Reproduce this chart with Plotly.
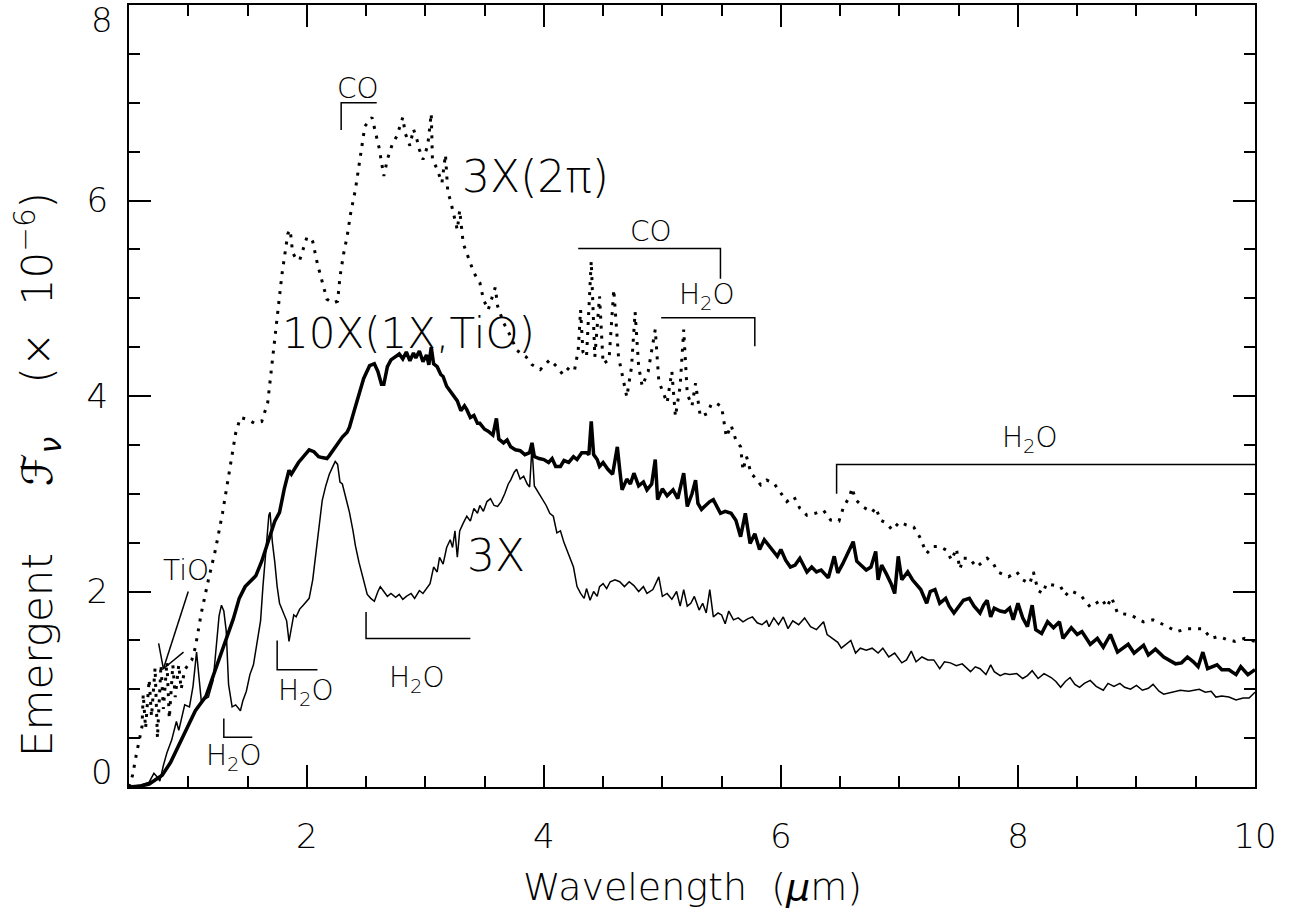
import plotly.graph_objects as go

# ---------------- data ----------------
thin_x = [0.50,0.60,0.67,0.71,0.74,0.76,0.79,0.82,0.86,0.90,0.92,0.95,0.97,1.01,1.04,1.07,1.09,1.11,1.14,1.17,
          1.21,1.24,1.26,1.28,1.30,1.32,1.34,1.37,1.40,1.44,1.46,1.49,1.52,1.55,1.58,1.61,1.63,1.65,1.68,1.69,
          1.71,1.73,1.75,1.77,1.80,1.83,1.85,1.87,1.89,1.91,1.94,1.97,2.00,2.02,2.05,2.08,2.11,2.13,2.16,2.19,
          2.22,2.24,2.26,2.28,2.30,2.33,2.36,2.39,2.41,2.44,2.47,2.49,2.51,2.54,2.57,2.60,2.62,2.65,2.68,2.71,
          2.75,2.78,2.81,2.84,2.88,2.91,2.95,2.98,3.01,3.04,3.07,3.10,3.12,3.15,3.18,3.21,3.23,3.25,3.27,3.29,
          3.32,3.35,3.38,3.41,3.44,3.46,3.49,3.52,3.55,3.58,3.61,3.64,3.67,3.70,3.72,3.75,3.77,3.80,3.83,3.86,
          3.88,3.90,3.92,3.95,3.98,4.02,4.05,4.08,4.11,4.14,4.17,4.20,4.23,4.25,4.28,4.31,4.34,4.36,4.39,4.42,
          4.45,4.47,4.50,4.53,4.56,4.60,4.64,4.68,4.72,4.76,4.80,4.84,4.87,4.92,4.97,5.00,5.04,5.08,5.12,5.15,
          5.18,5.21,5.24,5.27,5.31,5.34,5.37,5.40,5.43,5.47,5.50,5.53,5.56,5.60,5.64,5.68,5.72,5.76,5.80,5.84,
          5.88,5.90,5.94,5.98,6.02,6.06,6.10,6.15,6.20,6.25,6.30,6.36,6.39,6.44,6.48,6.51,6.55,6.59,6.63,6.67,
          6.72,6.77,6.82,6.86,6.91,6.96,7.02,7.06,7.10,7.14,7.19,7.24,7.29,7.34,7.38,7.43,7.48,7.53,7.60,7.64,
          7.68,7.73,7.77,7.80,7.85,7.89,7.93,7.99,8.04,8.08,8.12,8.17,8.22,8.28,8.32,8.36,8.40,8.44,8.48,8.52,
          8.56,8.61,8.66,8.72,8.76,8.81,8.86,8.90,8.95,9.00,9.05,9.10,9.14,9.19,9.23,9.30,9.37,9.44,9.53,9.58,
          9.63,9.67,9.72,9.78,9.84,9.90,9.95,10.00]
thin_y = [0.00,0.02,0.05,0.14,0.10,0.06,0.22,0.35,0.48,0.67,0.58,0.72,0.84,0.82,1.03,1.38,1.10,0.88,0.90,0.92,
          1.09,1.45,1.75,1.86,1.80,1.60,1.05,0.82,0.84,0.78,0.88,0.98,1.15,1.25,1.50,1.70,2.05,2.32,2.78,2.81,
          2.50,2.30,2.05,1.88,1.78,1.70,1.49,1.62,1.76,1.74,1.82,1.86,1.90,1.93,2.12,2.43,2.70,2.93,3.08,3.20,
          3.28,3.33,3.30,3.12,3.10,2.95,2.81,2.62,2.47,2.30,2.16,2.05,1.97,1.93,1.90,2.00,2.05,2.00,1.95,1.98,
          1.94,1.97,1.92,1.95,1.98,1.93,2.01,1.98,2.03,2.08,2.25,2.20,2.35,2.28,2.45,2.53,2.45,2.62,2.35,2.62,
          2.70,2.77,2.72,2.85,2.80,2.88,2.82,2.92,2.95,2.88,2.87,2.92,3.00,3.10,3.14,3.22,3.25,3.15,3.18,3.10,
          3.07,3.48,3.08,3.02,2.97,2.88,2.80,2.77,2.60,2.62,2.50,2.40,2.30,2.25,2.05,1.98,1.93,2.03,1.91,2.00,
          1.95,2.05,2.08,2.03,2.10,2.12,2.10,2.05,2.10,2.06,2.00,2.05,1.98,2.02,2.15,1.95,1.98,1.92,2.00,1.85,
          2.02,1.85,1.88,1.95,1.81,1.88,1.78,2.02,1.74,1.78,1.76,1.67,1.80,1.71,1.73,1.69,1.72,1.74,1.68,1.66,
          1.70,1.64,1.73,1.66,1.74,1.62,1.70,1.66,1.73,1.64,1.61,1.69,1.56,1.52,1.48,1.42,1.46,1.50,1.37,1.42,
          1.40,1.42,1.37,1.42,1.33,1.37,1.27,1.30,1.39,1.28,1.33,1.30,1.30,1.21,1.28,1.27,1.24,1.26,1.18,1.23,
          1.21,1.15,1.25,1.18,1.14,1.16,1.15,1.16,1.11,1.14,1.19,1.11,1.16,1.12,1.08,1.02,1.08,1.12,1.05,1.02,
          1.06,1.09,1.03,0.99,1.06,1.03,1.06,1.02,1.00,1.04,0.99,1.01,1.05,0.98,0.95,0.97,0.99,0.98,1.00,0.97,
          0.98,0.92,0.93,0.92,0.89,0.91,0.91,0.97]

thick_x = [0.50,0.60,0.67,0.75,0.78,0.85,0.92,0.99,1.06,1.15,1.23,1.32,1.38,1.43,1.48,1.52,1.57,1.62,1.68,1.73,
           1.77,1.81,1.85,1.87,1.93,1.98,2.02,2.06,2.10,2.13,2.17,2.19,2.25,2.30,2.34,2.36,2.40,2.44,2.48,2.53,
           2.57,2.60,2.63,2.65,2.68,2.71,2.75,2.78,2.81,2.84,2.87,2.90,2.92,2.95,2.98,3.01,3.03,3.05,3.07,3.10,
           3.13,3.15,3.18,3.21,3.24,3.27,3.30,3.33,3.35,3.38,3.41,3.44,3.46,3.50,3.53,3.57,3.60,3.62,3.66,3.69,
           3.72,3.76,3.80,3.84,3.88,3.90,3.92,3.96,4.00,4.04,4.07,4.10,4.14,4.17,4.21,4.25,4.28,4.32,4.36,4.38,
           4.40,4.42,4.45,4.47,4.50,4.54,4.58,4.62,4.64,4.66,4.70,4.73,4.76,4.80,4.84,4.87,4.91,4.94,4.96,5.00,
           5.04,5.09,5.13,5.18,5.21,5.25,5.28,5.30,5.33,5.37,5.40,5.43,5.46,5.49,5.53,5.58,5.62,5.66,5.70,5.72,
           5.74,5.78,5.82,5.86,5.91,5.97,6.00,6.04,6.08,6.12,6.16,6.19,6.22,6.26,6.30,6.34,6.37,6.40,6.45,6.48,
           6.52,6.56,6.61,6.64,6.68,6.72,6.76,6.80,6.82,6.85,6.89,6.93,6.96,6.99,7.02,7.07,7.11,7.15,7.18,7.23,
           7.26,7.30,7.34,7.39,7.42,7.46,7.50,7.54,7.59,7.63,7.68,7.71,7.74,7.77,7.80,7.85,7.89,7.93,7.96,8.00,
           8.04,8.08,8.12,8.15,8.20,8.25,8.30,8.35,8.38,8.45,8.50,8.54,8.61,8.67,8.72,8.78,8.84,8.93,8.98,9.06,
           9.10,9.16,9.23,9.33,9.38,9.43,9.48,9.52,9.56,9.60,9.68,9.72,9.78,9.84,9.88,9.94,10.00]
thick_y = [0.00,0.01,0.03,0.10,0.12,0.25,0.43,0.60,0.78,0.93,1.20,1.50,1.72,1.93,2.05,2.10,2.16,2.31,2.55,2.72,
           2.81,3.05,3.24,3.20,3.32,3.40,3.45,3.43,3.38,3.37,3.36,3.39,3.50,3.58,3.63,3.68,3.85,4.01,4.18,4.31,
           4.33,4.25,4.12,4.12,4.30,4.37,4.40,4.43,4.38,4.45,4.36,4.44,4.39,4.46,4.35,4.42,4.32,4.50,4.33,4.30,
           4.22,4.20,4.10,4.05,3.99,3.95,3.85,3.90,3.86,3.78,3.80,3.72,3.72,3.66,3.64,3.60,3.77,3.56,3.52,3.55,
           3.48,3.45,3.44,3.40,3.42,3.52,3.38,3.36,3.35,3.32,3.36,3.28,3.28,3.34,3.32,3.38,3.35,3.42,3.42,3.40,
           3.74,3.40,3.35,3.28,3.32,3.25,3.20,3.48,3.25,3.04,3.15,3.10,3.21,3.08,3.12,3.04,3.10,3.35,2.94,3.05,
           2.98,3.04,2.95,3.21,2.87,3.00,3.14,2.90,2.84,2.89,2.92,2.94,2.86,2.80,2.82,2.80,2.73,2.56,2.80,2.62,
           2.49,2.59,2.43,2.53,2.45,2.36,2.43,2.32,2.25,2.27,2.34,2.26,2.20,2.25,2.20,2.22,2.18,2.14,2.36,2.19,
           2.28,2.39,2.51,2.31,2.27,2.22,2.25,2.41,2.12,2.27,2.18,2.08,1.98,2.36,2.12,2.20,2.12,2.06,2.02,1.88,
           2.00,2.02,1.88,1.93,1.85,1.78,1.85,1.91,1.93,1.85,1.78,1.86,1.91,1.74,1.83,1.80,1.79,1.83,1.71,1.88,
           1.73,1.64,1.86,1.61,1.57,1.69,1.63,1.69,1.52,1.63,1.56,1.59,1.46,1.52,1.43,1.56,1.38,1.46,1.37,1.45,
           1.35,1.41,1.33,1.26,1.27,1.33,1.28,1.23,1.38,1.21,1.25,1.20,1.20,1.15,1.23,1.15,1.20]

dot_x = [0.50,0.53,0.56,0.59,0.61,0.62,0.64,0.67,0.69,0.72,0.74,0.77,0.79,0.82,0.84,0.87,0.89,0.92,0.94,0.97,
         1.00,1.03,1.06,1.11,1.17,1.23,1.29,1.34,1.40,1.44,
         1.50,1.56,1.62,1.67,1.71,1.75,1.79,1.84,1.86,1.88,1.91,1.94,1.97,2.00,2.03,2.05,2.09,2.13,2.17,2.22,
         2.26,2.28,2.31,2.34,2.37,2.41,2.44,2.46,2.49,2.55,2.59,2.61,2.65,2.68,2.72,2.76,2.81,2.83,2.87,2.90,
         2.93,2.95,2.98,3.02,3.05,3.06,3.10,3.14,3.17,3.18,3.19,3.21,3.24,3.27,3.29,3.32,3.35,3.38,3.41,3.46,
         3.49,3.53,3.59,3.61,3.66,3.72,3.77,3.85,3.90,3.97,4.05,4.11,4.16,4.22,4.26,4.29,4.31,4.33,4.36,4.40,
         4.43,4.47,4.50,4.55,4.59,4.63,4.70,4.74,4.77,4.80,4.83,4.88,4.94,4.97,5.04,5.08,5.11,5.15,5.18,5.21,
         5.25,5.28,5.32,5.38,5.41,5.45,5.50,5.54,5.58,5.62,5.66,5.68,5.71,5.75,5.77,5.83,5.88,5.94,6.00,6.05,
         6.11,6.16,6.22,6.29,6.36,6.42,6.49,6.53,6.58,6.60,6.63,6.70,6.77,6.80,6.84,6.89,6.94,7.00,7.06,7.12,
         7.17,7.23,7.28,7.34,7.40,7.44,7.48,7.51,7.54,7.59,7.65,7.70,7.74,7.79,7.83,7.92,7.99,8.04,8.10,8.13,
         8.17,8.21,8.24,8.36,8.40,8.44,8.53,8.61,8.71,8.75,8.79,8.84,8.95,9.06,9.14,9.23,9.34,9.43,9.56,9.63,
         9.69,9.76,9.83,9.91,10.00]
dot_y = [0.00,0.12,0.32,0.50,0.62,0.95,0.60,1.10,0.72,1.22,0.50,1.25,0.80,1.28,0.70,1.25,0.92,1.25,1.00,1.20,
         1.25,1.30,1.43,1.78,2.12,2.43,2.81,3.16,3.62,3.78,
         3.76,3.72,3.74,3.93,4.39,4.85,5.24,5.66,5.70,5.47,5.40,5.39,5.50,5.62,5.62,5.58,5.35,5.16,4.99,4.95,
         4.97,5.22,5.45,5.63,5.87,6.11,6.35,6.55,6.76,6.85,6.66,6.54,6.25,6.42,6.57,6.66,6.85,6.69,6.56,6.73,
         6.62,6.52,6.42,6.56,6.89,6.42,6.32,6.18,6.47,6.25,6.08,6.01,5.84,5.70,5.90,5.56,5.46,5.36,5.26,5.16,
         4.99,4.88,5.11,4.92,4.75,4.61,4.47,4.40,4.32,4.27,4.37,4.30,4.22,4.30,4.27,4.47,4.88,4.45,4.40,5.38,
         4.40,5.02,4.33,4.37,5.09,4.40,3.99,4.30,4.86,4.30,4.10,4.25,4.68,4.15,3.93,4.25,3.79,4.10,4.68,4.02,
         3.90,4.13,3.79,3.82,3.91,3.93,3.89,3.58,3.70,3.55,3.48,3.24,3.38,3.20,3.18,3.09,3.14,3.11,3.00,2.92,
         2.97,2.85,2.78,2.80,2.83,2.73,2.72,2.87,2.97,3.06,2.94,2.86,2.81,2.86,2.73,2.70,2.63,2.71,2.68,2.66,
         2.56,2.39,2.46,2.46,2.42,2.32,2.44,2.23,2.34,2.34,2.25,2.30,2.34,2.29,2.20,2.15,2.20,2.12,2.08,2.20,
         2.01,1.98,2.08,2.05,1.96,2.01,1.96,1.84,1.92,1.84,1.94,1.78,1.76,1.69,1.71,1.66,1.59,1.62,1.62,1.52,
         1.54,1.51,1.49,1.52,1.49]

x_tick_vals = [2, 4, 6, 8, 10]
x_tick_text = ["2", "4", "6", "8", "10"]
y_tick_vals = [0, 2, 4, 6, 8]
y_tick_text = ["", "2", "4", "6", ""]   # 0 and 8 are drawn as shifted labels below

# curve labels: (text, x, y, size)
curve_labels = [
    ("3X(2π)", 3.93, 6.25, 44),
    ("10X(1X,TiO)", 2.86, 4.64, 42),
    ("3X", 3.60, 2.37, 44),
]
# band labels: (text, x, y)
band_labels = [
    ("CO", 2.43, 7.15),
    ("CO", 4.90, 5.68),
    ("H<sub>2</sub>O", 5.38, 5.02),
    ("H<sub>2</sub>O", 8.10, 3.56),
    ("H<sub>2</sub>O", 1.99, 0.97),
    ("H<sub>2</sub>O", 1.39, 0.30),
    ("H<sub>2</sub>O", 2.93, 1.10),
    ("TiO", 0.98, 2.22),
]
# bracket polylines (x list, y list)
brackets = [
    ([2.29, 2.29, 2.59], [6.72, 7.00, 7.00]),
    ([4.29, 5.49, 5.49], [5.51, 5.51, 5.20]),
    ([4.99, 5.78, 5.78], [4.80, 4.80, 4.51]),
    ([6.47, 6.47, 10.0], [3.00, 3.30, 3.30]),
    ([1.30, 1.30, 1.54], [0.70, 0.51, 0.51]),
    ([1.75, 1.75, 2.09], [1.50, 1.20, 1.20]),
    ([2.50, 2.50, 3.38], [1.79, 1.52, 1.52]),
    # TiO arrow: shaft and the two head strokes
    ([1.00, 0.79], [2.00, 1.21]),
    ([0.75, 0.79, 0.96], [1.47, 1.21, 1.38]),
]

FONT = "DejaVu Sans ExtraLight, DejaVu Sans"
W = 200

fig = go.Figure()
fig.add_trace(go.Scatter(x=dot_x, y=dot_y, mode="lines",
                         line=dict(color="black", width=3, dash="3px,7px"),
                         showlegend=False, hoverinfo="skip"))
fig.add_trace(go.Scatter(x=thick_x, y=thick_y, mode="lines",
                         line=dict(color="black", width=3.5),
                         showlegend=False, hoverinfo="skip"))
fig.add_trace(go.Scatter(x=thin_x, y=thin_y, mode="lines",
                         line=dict(color="black", width=1.5),
                         showlegend=False, hoverinfo="skip"))

for bx, by in brackets:
    path = "M " + " L ".join(f"{a},{b}" for a, b in zip(bx, by))
    fig.add_shape(type="path", path=path, xref="x", yref="y",
                  line=dict(color="black", width=1.5))

for txt, x, y, s in curve_labels:
    fig.add_annotation(x=x, y=y, text=txt, showarrow=False,
                       font=dict(family=FONT, size=s, color="black", weight=W))
for txt, x, y in band_labels:
    fig.add_annotation(x=x, y=y, text=txt, showarrow=False,
                       font=dict(family=FONT, size=28, color="black", weight=W))

# end tick labels (shifted inside as in the original)
fig.add_annotation(x=0, xref="paper", y=8, yref="y", text="8", showarrow=False,
                   xanchor="right", yanchor="middle", xshift=-14, yshift=-15,
                   font=dict(family=FONT, size=34, color="black", weight=W))
fig.add_annotation(x=0, xref="paper", y=0, yref="y", text="0", showarrow=False,
                   xanchor="right", yanchor="middle", xshift=-14, yshift=15,
                   font=dict(family=FONT, size=34, color="black", weight=W))

# axis titles
fig.add_annotation(x=0.5, xref="paper", y=-0.128, yref="paper", yanchor="middle",
                   text="Wavelength  (<i>μ</i>m)", showarrow=False,
                   font=dict(family=FONT, size=38, color="black", weight=W))
fig.add_annotation(x=-0.081, xref="paper", y=0.40, yref="paper", textangle=-90,
                   xanchor="center", yanchor="middle",
                   text="Emergent     <i>ℱ</i><sub><i>ν</i></sub>    (×  10<sup>−6</sup>)",
                   showarrow=False,
                   font=dict(family=FONT, size=42, color="black", weight=W))

axis_common = dict(showline=True, linecolor="black", linewidth=2, mirror="ticks",
                   ticks="inside", ticklen=22, tickwidth=2, tickcolor="black",
                   showgrid=False, zeroline=False, automargin=False,
                   tickfont=dict(family=FONT, size=34, color="black", weight=W))

fig.update_xaxes(range=[0.5, 10], tickmode="array", tickvals=x_tick_vals, ticktext=x_tick_text,
                 ticklabelstandoff=18,
                 minor=dict(dtick=0.5, tick0=0, ticks="inside", ticklen=11, tickwidth=2,
                            tickcolor="black", showgrid=False),
                 **axis_common)
fig.update_yaxes(range=[0, 8], tickmode="array", tickvals=y_tick_vals, ticktext=y_tick_text,
                 ticklabelstandoff=12,
                 minor=dict(dtick=0.5, tick0=0, ticks="inside", ticklen=11, tickwidth=2,
                            tickcolor="black", showgrid=False),
                 **axis_common)

fig.update_layout(width=1301, height=920,
                  margin=dict(l=129, r=46, t=5, b=133),
                  paper_bgcolor="white", plot_bgcolor="white",
                  font=dict(family=FONT, color="black"))

fig.write_html("out.html", config={"displayModeBar": False},
               post_script="document.body.style.margin='0px';")
